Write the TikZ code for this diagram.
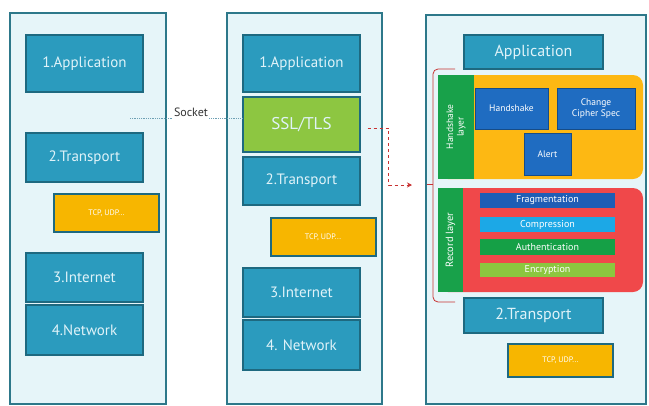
\documentclass[tikz,border=0pt]{standalone}
\usepackage{fontspec}
\setmainfont{PT Sans}
\usepackage{tikz}
\usetikzlibrary{arrows.meta,positioning,calc}
\definecolor{pnlfill}{RGB}{230,245,249}
\definecolor{pnledge}{RGB}{45,120,138}
\definecolor{lyrfill}{RGB}{43,155,190}
\definecolor{lyredge}{RGB}{30,105,128}
\definecolor{lyrtext}{RGB}{224,243,249}
\definecolor{tcpfill}{RGB}{247,182,0}
\definecolor{sslfill}{RGB}{141,198,65}
\definecolor{hsfill}{RGB}{253,184,19}
\definecolor{recfill}{RGB}{240,72,74}
\definecolor{stripc}{RGB}{24,161,74}
\definecolor{hsblue}{RGB}{31,108,193}
\definecolor{fragc}{RGB}{31,93,181}
\definecolor{compc}{RGB}{28,168,230}
\definecolor{authc}{RGB}{21,160,70}
\definecolor{encc}{RGB}{140,198,63}
\definecolor{brkc}{RGB}{200,50,50}
\definecolor{sockc}{RGB}{110,160,180}
\tikzset{
  panel/.style={draw=pnledge,fill=pnlfill,line width=1.6pt},
  lyr/.style={draw=lyredge,fill=lyrfill,line width=1.2pt,text=lyrtext,inner sep=0pt,
    minimum width=117pt,font=\fontsize{15}{17}\selectfont},
  sslbox/.style={lyr,fill=sslfill,minimum height=55pt,font=\fontsize{17}{19}\selectfont},
  tcpbox/.style={draw=lyredge,fill=tcpfill,line width=2pt,text=white,inner sep=0pt,
    minimum width=105pt,minimum height=38pt,font=\fontsize{8}{9}\selectfont},
  strip/.style={fill=stripc,text=white,inner sep=0pt,rotate=90,align=center,
    font=\fontsize{9.5}{10.5}\selectfont},
  hsbox/.style={draw=hsblue!70!black,fill=hsblue,text=white,inner sep=0pt,align=center,
    font=\fontsize{9.5}{11}\selectfont},
  recbar/.style={text=white,inner sep=0pt,minimum width=135pt,minimum height=15pt,
    font=\fontsize{10}{11}\selectfont},
  sock/.style={text=black!80,inner sep=1pt,font=\fontsize{12}{14}\selectfont},
  sockline/.style={draw=sockc,densely dotted,line width=0.8pt},
  arr/.style={-{Stealth[length=5pt,width=5pt]},brkc,dashed,line width=0.9pt},
  brk/.style={draw=brkc,line width=0.8pt},
}

\begin{document}
\begin{tikzpicture}[x=1pt,y=-1pt]
\useasboundingbox (0,0) rectangle (649,405);
% the three stacks
\draw[panel] (10,13) rectangle (166,404);
\draw[panel] (227,13) rectangle (382,404);
\draw[panel] (426,15) rectangle (646,404);

% left: plain stack
\node[lyr,minimum height=57pt] (app1) at (84.5,63.5) {1.Application};
\node[lyr,minimum height=49pt] (tr1) at (84.5,157.5) {2.Transport};
\node[tcpbox] (tcp1) at (106.5,213) {TCP, UDP...};
\node[lyr,minimum height=49pt] (int1) at (84.5,277.5) {3.Internet};
\node[lyr,minimum height=50pt] (net1) at (84.5,330) {4.Network};

% middle: stack with SSL/TLS
\node[lyr,minimum height=57pt] (app2) at (301.5,63.5) {1.Application};
\node[sslbox] (ssl) at (301.5,124.5) {SSL/TLS};
\node[lyr,minimum height=48pt] (tr2) at (301.5,181) {2.Transport};
\node[tcpbox] (tcp2) at (323,237) {TCP, UDP...};
\node[lyr,minimum height=49pt] (int2) at (301.5,292.5) {3.Internet};
\node[lyr,minimum height=50pt] (net2) at (301.5,345) {4. Network};

% socket
\node[sock] (socket) at (191,112) {Socket};
\coordinate (sockL) at (130,118);
\draw[sockline] (sockL) -- (sockL -| socket.west);
\draw[sockline] (sockL -| socket.east) -- (sockL -| ssl.west);

% right: inside SSL/TLS
\node[lyr,minimum width=139pt,minimum height=34pt,font=\fontsize{16}{18}\selectfont] (app3) at (533.5,52) {Application};

\fill[hsfill,rounded corners=10pt] (438,75) rectangle (643,179);
\node[strip,minimum width=104pt,minimum height=36pt] (hsstrip) at (456,127) {Handshake\\layer};
\node[hsbox,minimum width=73pt,minimum height=41pt] (hshk) at (511.5,108.5) {Handshake};
\node[hsbox,minimum width=78pt,minimum height=41pt] (ccs) at (596,108.5) {Change\\Cipher Spec};
\node[hsbox,minimum width=47pt,minimum height=42pt] (alert) at (547.5,154) {Alert};

\fill[recfill,rounded corners=10pt] (438,188) rectangle (643,292);
\node[strip,minimum width=104pt,minimum height=25pt,font=\fontsize{10.5}{12}\selectfont] (recstrip) at (450.5,240) {Record layer};
\node[recbar,fill=fragc] (frag) at (547.5,200.5) {Fragmentation};
\node[recbar,fill=compc] (comp) at (547.5,224.5) {Compression};
\node[recbar,fill=authc,minimum height=16pt] (auth) at (547.5,247) {Authentication};
\node[recbar,fill=encc,minimum height=14pt] (enc) at (547.5,270) {Encryption};

\node[lyr,minimum width=139pt,minimum height=35pt,font=\fontsize{16}{18}\selectfont] (tr3) at (533.5,315.5) {2.Transport};
\node[tcpbox,minimum height=33pt] (tcp3) at (560.5,360) {TCP, UDP...};

% bracket round the two SSL layers
\draw[brk,rounded corners=5pt] (455,69) -- (433,69) -- (433,302) -- (455,302);
\draw[brk] (433,184) -- (427,184);

% SSL/TLS expands to the right
\coordinate (brkin) at (412,185);
\draw[arr] ([xshift=7pt,yshift=-3.5pt]ssl.east) -- ++(21,0) |- (brkin);
\end{tikzpicture}
\end{document}
